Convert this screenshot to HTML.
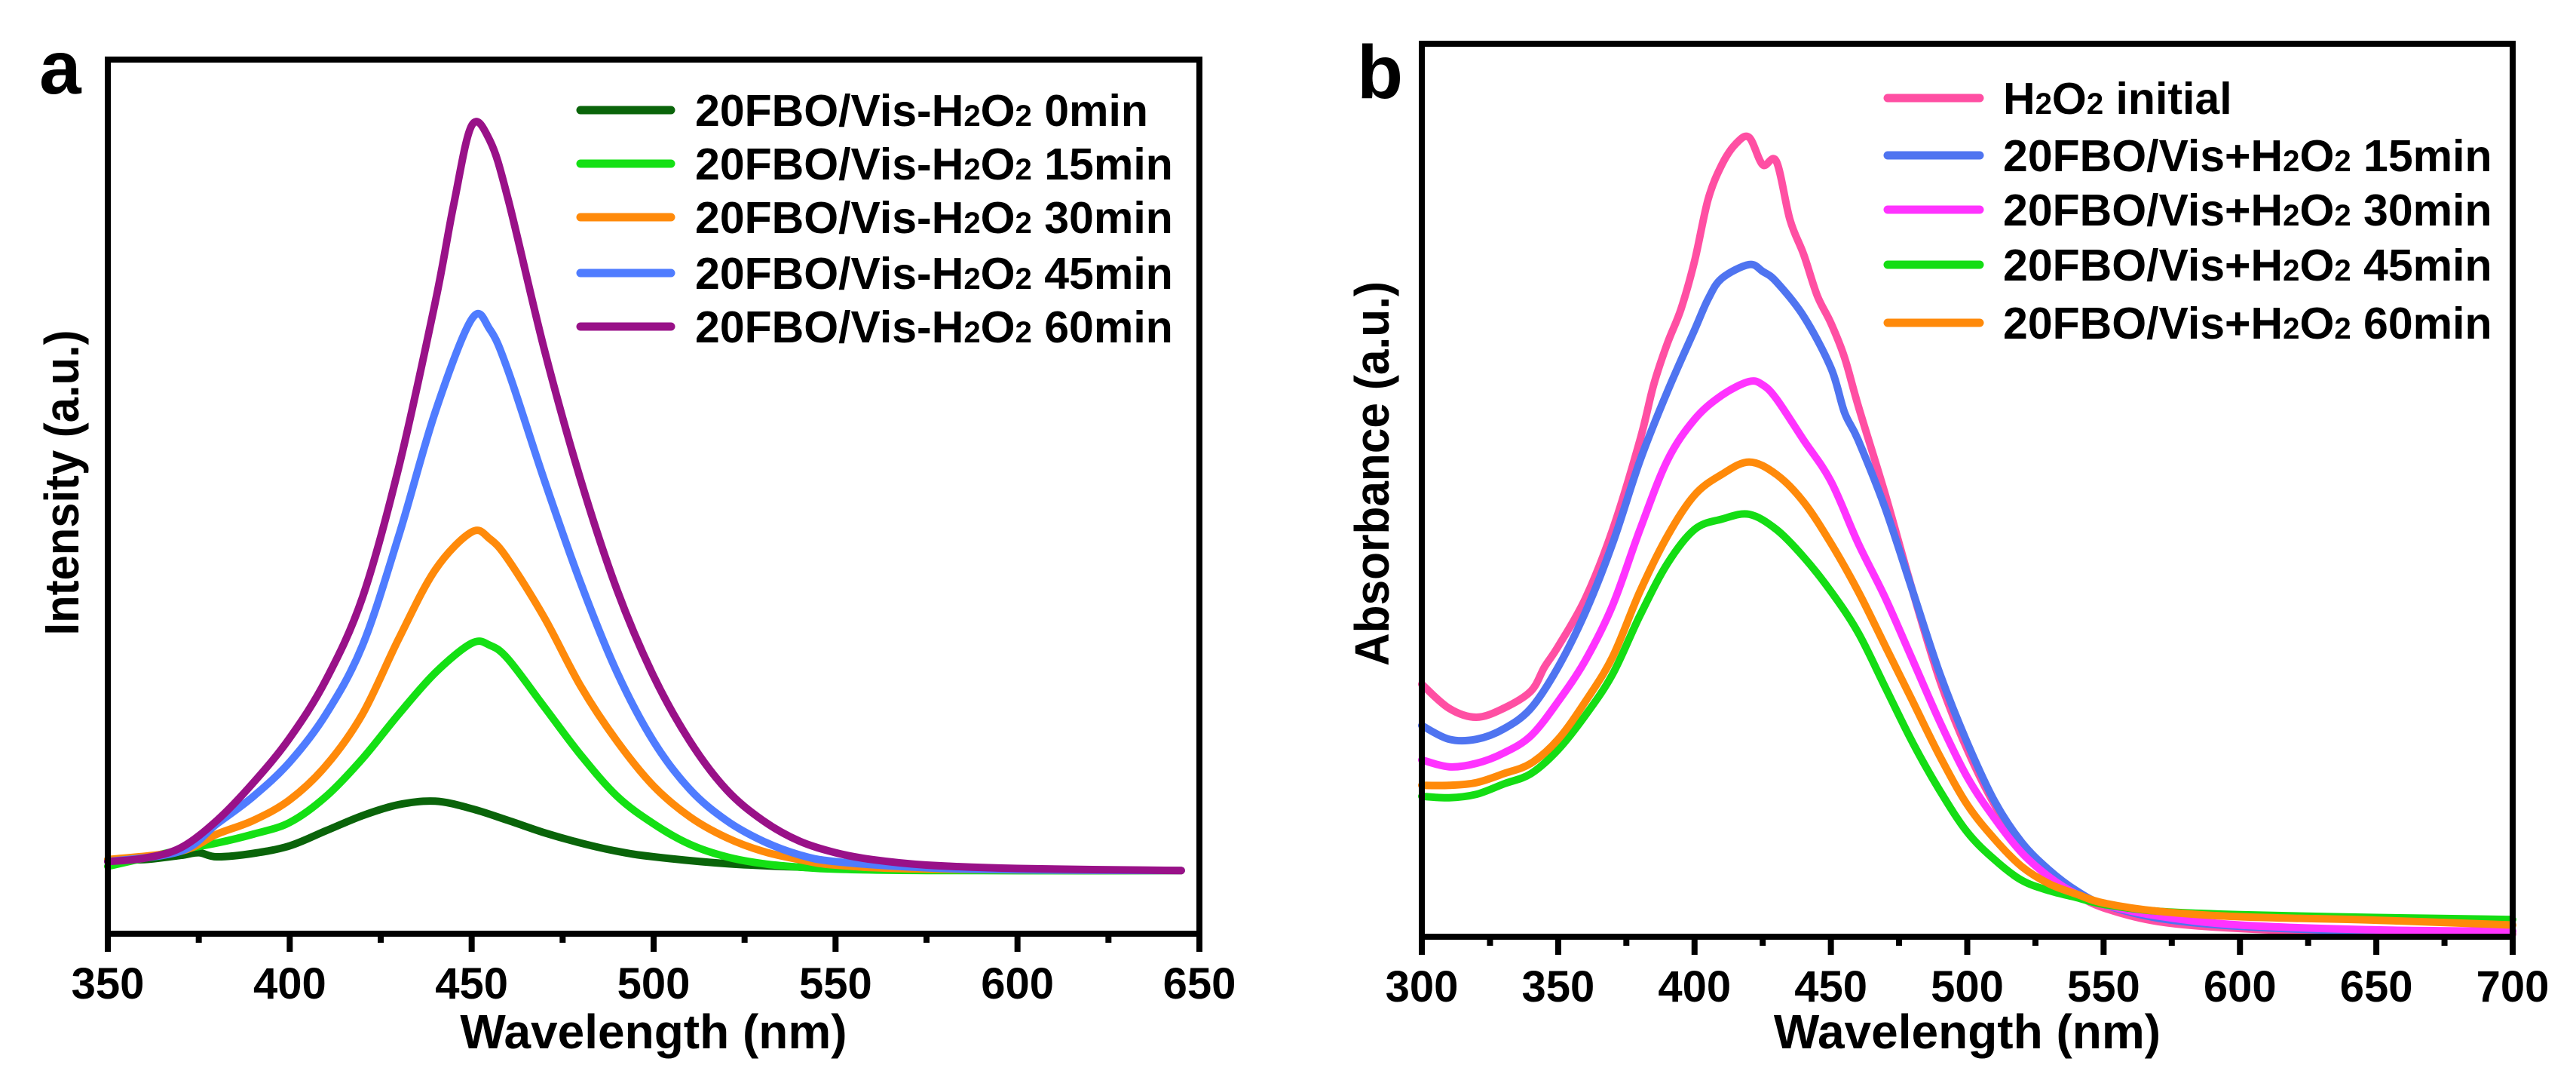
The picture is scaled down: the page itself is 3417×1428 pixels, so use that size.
<!DOCTYPE html>
<html><head><meta charset="utf-8"><style>
html,body{margin:0;padding:0;background:#fff}
svg{display:block}
text{font-family:"Liberation Sans",Arial,sans-serif;font-weight:bold;fill:#000}
</style></head><body>
<svg id="fig" width="3417" height="1428" viewBox="0 0 3417 1428" xmlns="http://www.w3.org/2000/svg">
<rect width="3417" height="1428" fill="#fff"/>
</svg>
<script>
// ---- Panel a data ----
const aNames = ["20FBO/Vis-H2O2 0min","20FBO/Vis-H2O2 15min","20FBO/Vis-H2O2 30min","20FBO/Vis-H2O2 45min","20FBO/Vis-H2O2 60min"];
const aX0 = [350,360,370,375,380,390,400,410,420,430,440,450,460,470,480,490,500,520,540,560,600,645];
const aY0 = [16,16,22,26,20,25,36,58,80,96,101,90,73,55,40,28,20,10,5,2,0,0];
const aX15 = [350,370,380,390,400,410,420,430,440,450,455,460,470,480,490,500,510,520,530,540,550,575,645];
const aY15 = [6,30,40,53,70,108,163,228,288,331,328,308,238,168,108,68,38,20,10,5,2,0,0];
const aX30 = [350,370,380,390,400,410,420,430,440,450,455,460,470,480,490,500,510,520,530,540,550,575,645];
const aY30 = [16,28,53,73,103,153,228,338,438,493,483,453,368,268,188,123,78,48,28,16,8,2,0];
const aX45 = [350,370,380,390,400,410,420,430,440,450,455,460,470,480,490,500,510,520,530,540,550,575,600,645];
const aY45 = [13,28,68,108,158,228,328,488,668,803,788,728,568,418,288,188,118,73,43,23,13,4,1,0];
const aX60 = [350,360,370,380,390,400,410,420,430,440,445,450,455,460,470,480,490,500,510,520,530,540,550,560,575,600,645];
const aY60 = [13,18,33,73,128,193,278,398,588,828,968,1085,1063,978,758,568,408,283,188,118,73,43,26,16,8,3,0];
const aTicks = [350,400,450,500,550,600,650];
// ---- Panel b data ----
const bNames = ["H2O2 initial","20FBO/Vis+H2O2 15min","20FBO/Vis+H2O2 30min","20FBO/Vis+H2O2 45min","20FBO/Vis+H2O2 60min"];
const bXinit = [300,310,320,330,340,345,350,360,370,380,385,390,395,400,405,410,415,420,425,430,435,440,445,450,455,460,470,480,490,500,510,520,530,540,550,570,600,650,700];
const bYinit = [367,332,319,332,357,392,422,492,592,722,802,862,912,982,1072,1122,1152,1162,1122,1127,1042,992,932,892,842,772,642,502,372,272,192,132,92,62,42,22,12,5,4];
const bX15 = [300,310,320,330,340,350,360,370,380,390,400,405,410,420,425,430,440,450,455,460,470,480,490,500,510,520,530,540,550,570,600,650,700];
const bY15 = [307,287,287,302,332,392,472,572,692,792,882,927,957,977,967,952,902,827,762,722,622,502,382,282,197,137,97,67,47,27,15,8,8];
const bX30 = [300,310,320,330,340,350,360,370,380,390,400,410,420,425,430,440,450,460,470,480,490,500,510,520,530,540,550,570,600,650,700];
const bY30 = [257,247,252,267,292,342,402,482,592,692,752,787,807,802,782,722,662,572,492,402,312,232,172,122,87,62,47,30,17,10,8];
const bX45 = [300,310,320,330,340,350,360,370,380,390,400,410,420,430,440,450,460,470,480,490,500,510,520,530,540,550,570,600,650,700];
const bY45 = [204,202,207,222,237,272,322,382,467,542,592,607,614,592,552,502,442,362,282,212,152,112,82,67,57,47,37,32,28,25];
const bX60 = [300,310,320,330,340,350,360,370,380,390,400,410,420,430,440,450,460,470,480,490,500,510,520,530,540,550,570,600,650,700];
const bY60 = [220,220,224,237,252,287,342,407,502,582,642,672,690,672,632,572,502,422,342,262,192,142,102,77,62,49,37,29,24,17];
const bTicks = [300,350,400,450,500,550,600,650,700];

const NS = "http://www.w3.org/2000/svg";
const svg = document.getElementById('fig');
function mk(tag, attrs, parent){const e=document.createElementNS(NS,tag);for(const k in attrs)e.setAttribute(k,attrs[k]);(parent||svg).appendChild(e);return e;}
function smooth(P){
  let d='M'+P[0][0].toFixed(1)+','+P[0][1].toFixed(1);
  for(let i=0;i<P.length-1;i++){
    const p0=P[Math.max(0,i-1)],p1=P[i],p2=P[i+1],p3=P[Math.min(P.length-1,i+2)];
    const c1=[p1[0]+(p2[0]-p0[0])/6,p1[1]+(p2[1]-p0[1])/6];
    const c2=[p2[0]-(p3[0]-p1[0])/6,p2[1]-(p3[1]-p1[1])/6];
    d+=' C'+c1[0].toFixed(1)+','+c1[1].toFixed(1)+' '+c2[0].toFixed(1)+','+c2[1].toFixed(1)+' '+p2[0].toFixed(1)+','+p2[1].toFixed(1);
  }
  return d;
}
function labelText(t, parent, x, y, size){
  const el = mk('text',{x:x,y:y,'font-size':size},parent);
  const parts = t.split(/(H2O2)/);
  parts.forEach(p=>{
    if(p==='H2O2'){
      const a=mk('tspan',{},el);a.textContent='H';
      const b=mk('tspan',{'font-size':size*0.68},el);b.textContent='2';
      const c=mk('tspan',{},el);c.textContent='O';
      const d=mk('tspan',{'font-size':size*0.68},el);d.textContent='2';
    } else if(p){const s=mk('tspan',{},el);s.textContent=p;}
  });
  return el;
}
function panel(cfg){
  const g = mk('g',{});
  
  
  const sx = v => cfg.L + (v-cfg.x0)/(cfg.x1-cfg.x0)*(cfg.R-cfg.L);
  const sy = v => cfg.B - (v-cfg.y0)/(cfg.y1-cfg.y0)*(cfg.B-cfg.T);
  cfg.series.forEach(s=>{
    const P = s.x.map((v,i)=>[sx(v),sy(s.y[i])]);
    const p = mk('path',{d:smooth(P),fill:'none',stroke:s.color,'stroke-width':10,'stroke-linejoin':'round','stroke-linecap':'round'},g);
    
    
  });
  const fr = mk('rect',{x:cfg.L,y:cfg.T,width:cfg.R-cfg.L,height:cfg.B-cfg.T,fill:'none',stroke:'#000','stroke-width':8},g);
  
  
  cfg.ticks.forEach((t,i)=>{
    const x=sx(t);
    const tk = mk('line',{x1:x,x2:x,y1:cfg.B,y2:cfg.B+24,stroke:'#000','stroke-width':8},g);
    
    
    const lb = mk('text',{x:x,y:cfg.B+86,'font-size':58,'text-anchor':'middle'},g);
    lb.textContent = t;
    
    
    if(i<cfg.ticks.length-1){
      const xm=sx((t+cfg.ticks[i+1])/2);
      const mt = mk('line',{x1:xm,x2:xm,y1:cfg.B,y2:cfg.B+12,stroke:'#000','stroke-width':8},g);
      
      
    }
  });
  const xt = mk('text',{x:(cfg.L+cfg.R)/2,y:1390,'font-size':64,'text-anchor':'middle'},g);
  xt.textContent='Wavelength (nm)';
  
  
  const yt = mk('text',{x:-cfg.ytlen/2,y:0,'font-size':64,textLength:cfg.ytlen,lengthAdjust:'spacingAndGlyphs',transform:`translate(${cfg.ytx},${cfg.yty}) rotate(-90)`},g);
  yt.textContent=cfg.ytitle;
  
  
  const pl = mk('text',{x:cfg.plx,y:cfg.ply,'font-size':100},g);
  pl.textContent=cfg.letter;
  
  
  cfg.series.forEach((s,i)=>{
    const y = cfg.legY[i];
    const ln = mk('line',{x1:cfg.legX1,x2:cfg.legX2,y1:y,y2:y,stroke:s.color,'stroke-width':11,'stroke-linecap':'round'},g);
    
    
    const tx = labelText(s.label,g,cfg.legTX,y+21,59);
    
    
  });
}
panel({name:'panel-a',L:143,R:1591,T:79,B:1238,x0:350,x1:650,y0:-92,y1:1181,ticks:aTicks,
  ytitle:'Intensity (a.u.)',ytx:104,yty:640,ytlen:405,letter:'a',plx:52,ply:124,
  legX1:770,legX2:890,legTX:922,legY:[146,217,288,362,433],
  series:[
    {id:'curve-0min',label:aNames[0],x:aX0,y:aY0,color:'#0a640a'},
    {id:'curve-15min',label:aNames[1],x:aX15,y:aY15,color:'#14e014'},
    {id:'curve-30min',label:aNames[2],x:aX30,y:aY30,color:'#ff8a0a'},
    {id:'curve-45min',label:aNames[3],x:aX45,y:aY45,color:'#4f7cff'},
    {id:'curve-60min',label:aNames[4],x:aX60,y:aY60,color:'#991188'}]});
panel({name:'panel-b',L:1886,R:3333,T:58,B:1242,x0:300,x1:700,y0:0,y1:1298,ticks:bTicks,
  ytitle:'Absorbance (a.u.)',ytx:1842,yty:628,ytlen:510,letter:'b',plx:1800,ply:130,
  legX1:2504,legX2:2626,legTX:2657,legY:[130,206,278,351,428],
  series:[
    {id:'curve-initial',label:bNames[0],x:bXinit,y:bYinit,color:'#ff4fa3'},
    {id:'curve-15min',label:bNames[1],x:bX15,y:bY15,color:'#4f74f0'},
    {id:'curve-30min',label:bNames[2],x:bX30,y:bY30,color:'#ff33ff'},
    {id:'curve-45min',label:bNames[3],x:bX45,y:bY45,color:'#14dd14'},
    {id:'curve-60min',label:bNames[4],x:bX60,y:bY60,color:'#ff8a0a'}]});
</script>
</body></html>
